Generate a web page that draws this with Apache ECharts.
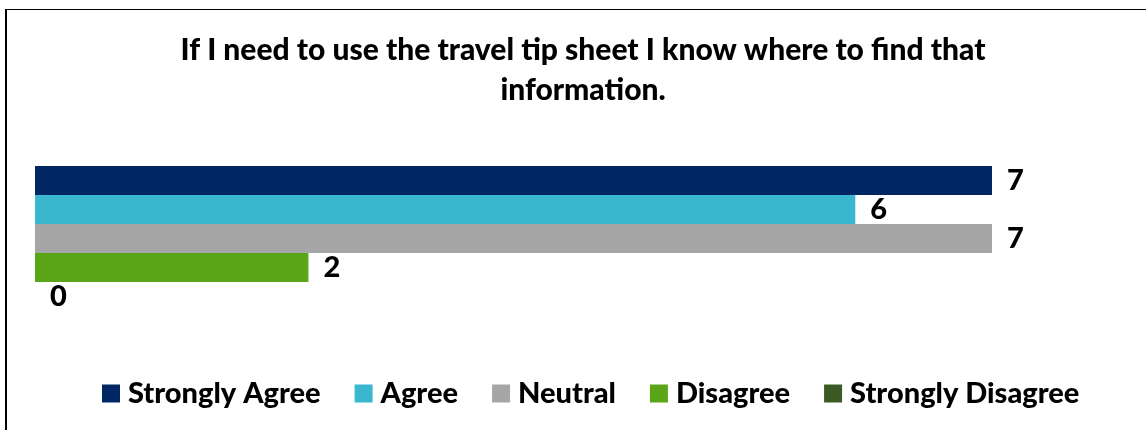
<!DOCTYPE html>
<html>
<head>
<meta charset="utf-8">
<script src="https://cdn.jsdelivr.net/npm/echarts@6/dist/echarts.min.js"></script>
<style>
  html, body { margin: 0; padding: 0; background: #fff; }
  #chart { width: 1146px; height: 430px; }
</style>
</head>
<body>
<div id="chart"></div>
<script>
// Survey responses for one statement
const titleText = 'If I need to use the travel tip sheet I know where to find that\ninformation.';
const categories = [''];
const responseNames = ['Strongly Agree', 'Agree', 'Neutral', 'Disagree', 'Strongly Disagree'];
const responseCounts = [7, 6, 7, 2, 0];
const responseColors = ['#002664', '#3BB6CF', '#A6A6A6', '#5AA518', '#3B5A25'];

const FONT = 'Lato, "Open Sans", sans-serif';

const chart = echarts.init(document.getElementById('chart'), null, { renderer: 'canvas' });

chart.setOption({
  backgroundColor: '#fff',
  animation: false,
  title: {
    text: titleText,
    left: 578,
    textAlign: 'center',
    top: 25,
    textStyle: { fontFamily: FONT, fontWeight: 900, fontSize: 30, color: '#000', lineHeight: 40 }
  },
  legend: {
    data: responseNames,
    left: 97,
    top: 374,
    itemWidth: 18,
    itemHeight: 18,
    itemGap: 34,
    icon: 'rect',
    textStyle: { fontFamily: FONT, fontWeight: 900, fontSize: 29, color: '#000', padding: [0, 0, 0, 3] }
  },
  grid: { left: 35, top: 166, width: 957, height: 145, containLabel: false },
  xAxis: {
    type: 'value', min: 0, max: 7, interval: 1,
    show: false
  },
  yAxis: {
    type: 'category', data: categories, inverse: true,
    axisLine: { show: false }, axisTick: { show: false }, axisLabel: { show: false }
  },
  series: responseNames.map((name, i) => ({
    name: name,
    type: 'bar',
    data: [responseCounts[i]],
    itemStyle: { color: responseColors[i] },
    barGap: '0%',
    barCategoryGap: '0%',
    label: {
      show: true, position: 'right', distance: 15,
      fontFamily: FONT, fontWeight: 900, fontSize: 29, color: '#000'
    }
  })),
  graphic: [
    { type: 'line', shape: { x1: 6, y1: 9.5, x2: 1146, y2: 9.5 }, style: { stroke: '#000', lineWidth: 1 } },
    { type: 'line', shape: { x1: 6, y1: 9, x2: 6, y2: 430 }, style: { stroke: '#000', lineWidth: 2 } }
  ]
});
</script>
</body>
</html>
